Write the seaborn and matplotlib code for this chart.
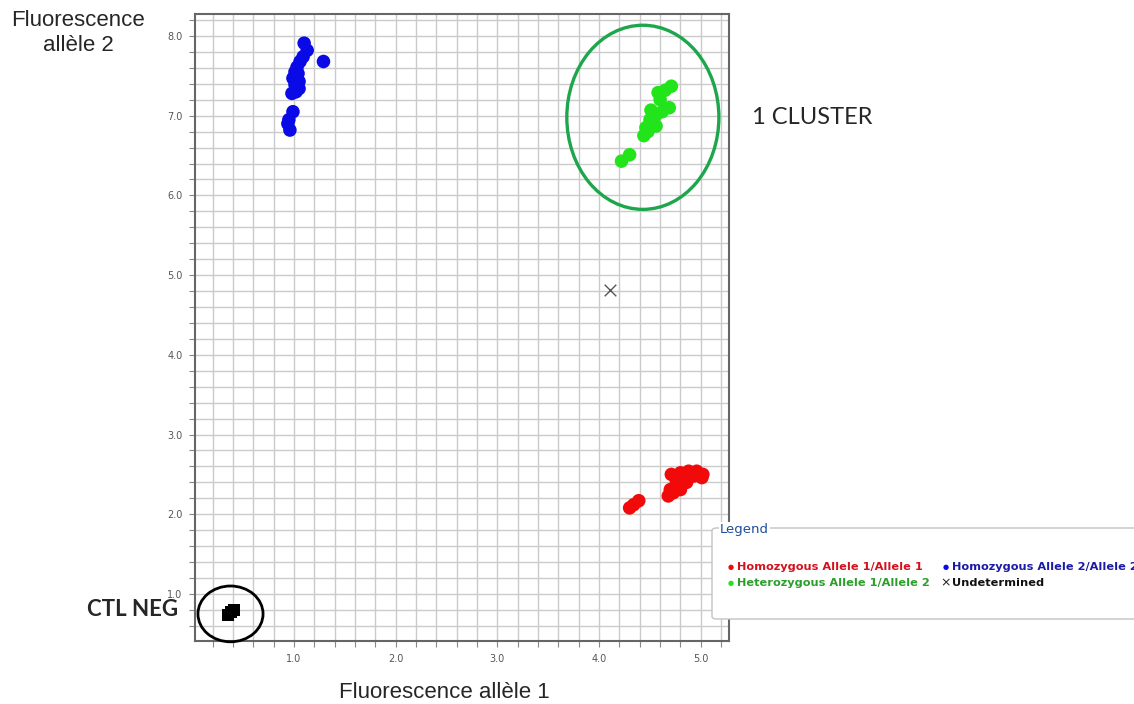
import matplotlib
matplotlib.use("Agg")
import matplotlib.pyplot as plt
from matplotlib.patches import Ellipse, FancyBboxPatch
from matplotlib.ticker import MultipleLocator, FixedLocator
import numpy as np
import pandas as pd
import seaborn as sns

# ---- genotype calls: (allele 1 fluorescence, allele 2 fluorescence) ----
hom1_x = [4.30, 4.34, 4.39, 4.68, 4.70, 4.73, 4.71, 4.76, 4.80, 4.80, 4.83,
          4.86, 4.88, 4.93, 4.96, 5.01, 5.02]
hom1_y = [2.08, 2.12, 2.17, 2.23, 2.31, 2.27, 2.50, 2.40, 2.31, 2.52, 2.42,
          2.40, 2.54, 2.48, 2.54, 2.46, 2.50]

hom2_x = [1.10, 1.13, 1.09, 1.06, 1.03, 1.01, 1.04, 0.99, 1.05, 1.01, 1.05,
          0.98, 1.02, 1.29, 0.99, 0.95, 0.94, 0.96]
hom2_y = [7.91, 7.82, 7.74, 7.68, 7.61, 7.55, 7.53, 7.47, 7.43, 7.39, 7.34,
          7.28, 7.30, 7.68, 7.05, 6.95, 6.90, 6.82]

het_x = [4.71, 4.58, 4.60, 4.69, 4.51, 4.56, 4.50, 4.56, 4.46, 4.44, 4.30,
         4.22, 4.62, 4.52, 4.65, 4.48]
het_y = [7.37, 7.29, 7.20, 7.10, 7.07, 7.01, 6.95, 6.87, 6.85, 6.75, 6.51,
         6.43, 7.05, 6.92, 7.32, 6.80]

undet_x = [4.11]
undet_y = [4.81]

ntc_x = [0.35, 0.38, 0.41]
ntc_y = [0.73, 0.77, 0.80]

genotypes = ["Homozygous Allele 1/Allele 1", "Homozygous Allele 2/Allele 2",
             "Heterozygous Allele 1/Allele 2"]
dot_colors = ["#f20a0a", "#0a0ae6", "#22e41a"]
legend_colors = ["#d3121c", "#1b1ba8", "#2a9f2a"]

x_ticks = [1.0, 2.0, 3.0, 4.0, 5.0]
y_ticks = [1.0, 2.0, 3.0, 4.0, 5.0, 6.0, 7.0, 8.0]

calls = pd.DataFrame({
    "a1": hom1_x + hom2_x + het_x,
    "a2": hom1_y + hom2_y + het_y,
    "call": [genotypes[0]] * len(hom1_x) + [genotypes[1]] * len(hom2_x)
            + [genotypes[2]] * len(het_x),
})

sns.set_theme(style="white")
plt.rcParams["font.family"] = ["DejaVu Sans"]

W, H = 1134, 704
fig = plt.figure(figsize=(W / 100, H / 100), dpi=100)
fig.patch.set_facecolor("white")


def fx(px):
    return px / W


def fy(py):
    return 1 - py / H


ax = fig.add_axes([fx(195), fy(641), (729 - 195) / W, (641 - 14) / H])

sns.scatterplot(data=calls, x="a1", y="a2", hue="call", hue_order=genotypes,
                palette=dict(zip(genotypes, dot_colors)), s=95, linewidth=0,
                alpha=1, legend=False, ax=ax, zorder=3)
sns.scatterplot(x=undet_x, y=undet_y, marker="x", s=70, color="#555555",
                linewidth=1.0, ax=ax, zorder=3)
sns.scatterplot(x=ntc_x, y=ntc_y, marker="s", s=75, color="black",
                linewidth=0, ax=ax, zorder=3)

ax.set_xlim(0.027, 5.277)
ax.set_ylim(0.41, 8.276)

ax.xaxis.set_major_locator(FixedLocator(x_ticks))
ax.yaxis.set_major_locator(FixedLocator(y_ticks))
ax.xaxis.set_minor_locator(MultipleLocator(0.2))
ax.yaxis.set_minor_locator(MultipleLocator(0.2))
ax.set_xticklabels([f"{v:.1f}" for v in x_ticks])
ax.set_yticklabels([f"{v:.1f}" for v in y_ticks])
ax.tick_params(which="both", direction="out", length=4, width=0.8,
               color="#888888", labelsize=7, labelcolor="#555555", pad=5,
               bottom=True, left=True)
ax.grid(True, which="both", color="#cbcbcb", linewidth=1.0)
ax.set_axisbelow(True)
ax.set_xlabel("")
ax.set_ylabel("")
for side in ["left", "right", "top", "bottom"]:
    ax.spines[side].set_visible(True)
    ax.spines[side].set_color("#666666")
    ax.spines[side].set_linewidth(1.5)

# cluster rings
ax.add_patch(Ellipse((4.43, 6.98), 1.495, 2.31, fill=False,
                     edgecolor="#1ea64c", linewidth=2.4, zorder=4,
                     clip_on=False))
ax.add_patch(Ellipse((0.376, 0.75), 0.64, 0.70, fill=False,
                     edgecolor="black", linewidth=2.0, zorder=4,
                     clip_on=False))

# axis titles and annotations
fig.text(fx(78), fy(33), "Fluorescence\nallèle 2", ha="center", va="center",
         fontsize=16, family="Liberation Sans", linespacing=1.3)
fig.text(fx(444), fy(693), "Fluorescence allèle 1", ha="center",
         va="center", fontsize=16, family="Liberation Sans")
fig.text(fx(752), fy(117), "1 CLUSTER", ha="left", va="center",
         fontsize=17, family="Lato")
fig.text(fx(178), fy(610), "CTL NEG", ha="right", va="center",
         fontsize=16, family="Lato", fontweight="bold")

# genotype legend panel
box = FancyBboxPatch((fx(712), fy(619)), (1150 - 712) / W, (619 - 528) / H,
                     boxstyle="round,pad=0,rounding_size=0.004",
                     transform=fig.transFigure, facecolor="white",
                     edgecolor="#c4c4c4", linewidth=1.0, zorder=10)
fig.patches.append(box)
fig.text(fx(720), fy(529), "Legend", ha="left", va="center", fontsize=9.5,
         color="#1f4e9c", zorder=11,
         bbox=dict(facecolor="white", edgecolor="none", pad=0.5))

rows = [(731, 567, "●", dot_colors[0], genotypes[0], legend_colors[0]),
        (946, 567, "●", dot_colors[1], genotypes[1], legend_colors[1]),
        (731, 583, "●", dot_colors[2], genotypes[2], legend_colors[2])]
for px, py, sym, sc, label, tc in rows:
    fig.text(fx(px), fy(py), sym, ha="center", va="center", fontsize=5,
             color=sc, zorder=11)
    fig.text(fx(px + 6), fy(py), label, ha="left", va="center",
             fontsize=8.2, fontweight="bold", color=tc, zorder=11)
fig.text(fx(946), fy(583), "×", ha="center", va="center", fontsize=9,
         color="#222222", zorder=11)
fig.text(fx(952), fy(583), "Undetermined", ha="left", va="center",
         fontsize=8.2, fontweight="bold", color="#111111", zorder=11)

fig.savefig("out.png", dpi=100)
